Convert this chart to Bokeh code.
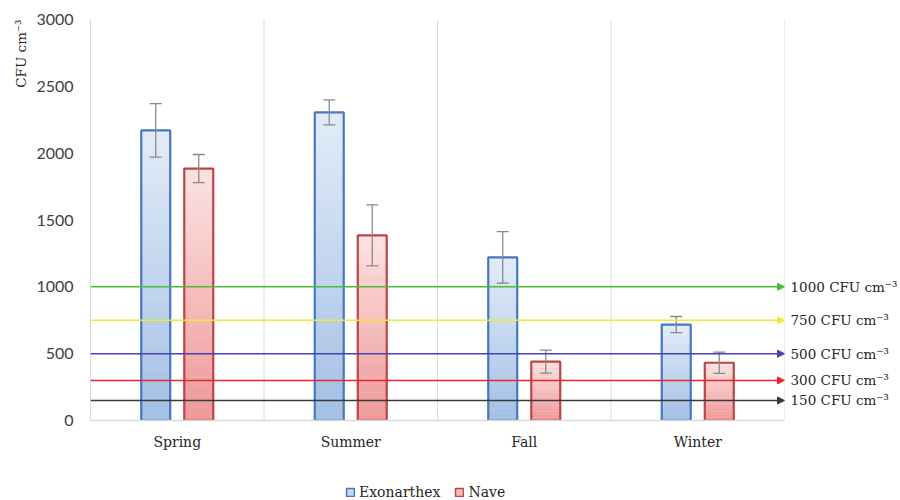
from bokeh.plotting import figure
from bokeh.models import (FactorRange, ColumnDataSource, Whisker, TeeHead, Arrow,
                          NormalHead, Span, FixedTicker, Legend, LegendItem, LinearAxis,
                          Title)
from bokeh.layouts import column
from bokeh.transform import dodge
from bokeh.embed import file_html
from bokeh.resources import INLINE

# Airborne microbial load by season (CFU per cubic centimetre)
seasons = ["Spring", "Summer", "Fall", "Winter"]
exonarthex = [2170, 2305, 1220, 718]
exonarthex_err = [200, 93, 193, 60]
nave = [1885, 1385, 440, 432]
nave_err = [105, 228, 86, 80]

# Reference thresholds
limit_values = [1000, 750, 500, 300, 150]
limit_labels = ["1000 CFU cm⁻³", "750 CFU cm⁻³", "500 CFU cm⁻³", "300 CFU cm⁻³", "150 CFU cm⁻³"]
limit_colors = ["#4dbb3a", "#f2ea2e", "#4a42b4", "#e8282c", "#3a3a3a"]

y_ticks = [0, 500, 1000, 1500, 2000, 2500, 3000]

SERIF = "DejaVu Serif"
SANS = "Lato"
TEXT = "#262626"

p = figure(x_range=FactorRange(*seasons, range_padding=0), y_range=(0, 3000),
           width=900, height=476, output_backend="svg", toolbar_location=None,
           min_border_left=90, min_border_right=115, min_border_top=19,
           min_border_bottom=56)
p.outline_line_color = None
p.xgrid.grid_line_color = None
p.ygrid.grid_line_color = None

# category separators
for k in range(1, len(seasons) + 1):
    p.add_layout(Span(location=k, dimension="height", line_color="#dcdcdc", line_width=1))

series = [
    (exonarthex, exonarthex_err, -0.124, "#a3bfe5", "#e2ecf8", "#4677bf"),
    (nave, nave_err, 0.124, "#ef9898", "#fce2e2", "#bb4548"),
]
BAR_W = 0.167
N = 40

def mix(c1, c2, t):
    a = [int(c1[i:i + 2], 16) for i in (1, 3, 5)]
    b = [int(c2[i:i + 2], 16) for i in (1, 3, 5)]
    return "#%02x%02x%02x" % tuple(round(a[j] + (b[j] - a[j]) * t) for j in range(3))

swatches = []
for vals, errs, off, dark, light, edge in series:
    xs, bots, tops, cols = [], [], [], []
    for s, v in zip(seasons, vals):
        for k in range(N):
            xs.append(s)
            bots.append(v * k / N)
            tops.append(v * (k + 1) / N)
            cols.append(mix(dark, light, (k + 0.5) / N))
    grad = ColumnDataSource(dict(season=xs, bottom=bots, top=tops, color=cols))
    p.vbar(x=dodge("season", off, range=p.x_range), bottom="bottom", top="top",
           width=BAR_W, source=grad, fill_color="color", line_color="color",
           line_width=0.6)
    src = ColumnDataSource(dict(season=seasons, top=vals,
                                upper=[v + e for v, e in zip(vals, errs)],
                                lower=[v - e for v, e in zip(vals, errs)]))
    p.vbar(x=dodge("season", off, range=p.x_range), top="top", bottom=0,
           width=BAR_W, source=src, fill_color=None, line_color=edge, line_width=2.2)
    swatches.append((mix(dark, light, 0.5), edge))
    p.add_layout(Whisker(base=dodge("season", off, range=p.x_range), upper="upper",
                         lower="lower", source=src, line_color="#8a8a8a", line_width=1.3,
                         level="annotation",
                         upper_head=TeeHead(size=12, line_color="#8a8a8a", line_width=1.3),
                         lower_head=TeeHead(size=12, line_color="#8a8a8a", line_width=1.3)))

# threshold lines with arrowheads
for v, col in zip(limit_values, limit_colors):
    p.add_layout(Arrow(x_start=0, y_start=v, x_end=4.0, y_end=v, line_color=col,
                       line_width=1.5, level="overlay",
                       end=NormalHead(size=7, fill_color=col, line_color=col)))

# threshold names on a right-hand axis
right = LinearAxis(ticker=FixedTicker(ticks=limit_values),
                   major_label_overrides={v: t for v, t in zip(limit_values, limit_labels)},
                   axis_line_color=None, major_tick_line_color=None,
                   minor_tick_line_color=None, major_tick_out=0, major_tick_in=0,
                   major_label_standoff=6,
                   major_label_text_font=SERIF, major_label_text_font_size="13.5px",
                   major_label_text_color=TEXT)
p.add_layout(right, "right")

# y axis title at the top of the left side
p.add_layout(Title(text="CFU cm⁻³", align="right", text_font=SERIF,
                   text_font_size="13.5px", text_font_style="normal",
                   text_color=TEXT, standoff=10), "left")

yax = p.yaxis[0]
yax.ticker = FixedTicker(ticks=y_ticks)
yax.axis_line_color = "#d9d9d9"
yax.major_tick_line_color = None
yax.minor_tick_line_color = None
yax.major_tick_out = 0
yax.major_tick_in = 0
yax.major_label_standoff = 17
yax.major_label_text_font = SANS
yax.major_label_text_font_size = "16px"
yax.major_label_text_color = "#404040"

p.xaxis.axis_line_color = "#d9d9d9"
p.xaxis.axis_line_width = 1.5
p.xaxis.major_tick_line_color = None
p.xaxis.minor_tick_line_color = None
p.xaxis.major_tick_out = 0
p.xaxis.major_tick_in = 0
p.xaxis.major_label_standoff = 13
p.xaxis.major_label_text_font = SERIF
p.xaxis.major_label_text_font_size = "14px"
p.xaxis.major_label_text_color = TEXT

# legend strip below the chart (its frame lines up with the chart frame)
leg = figure(width=900, height=24, x_range=(0, 1), y_range=(0, 1),
             x_axis_location=None, y_axis_location=None,
             output_backend="svg", toolbar_location=None, min_border=0)
leg.grid.visible = False
leg.outline_line_color = None
leg_items = []
for name, (fill, edge) in zip(["Exonarthex", "Nave"], swatches):
    sw = leg.quad(left=[-5], right=[-4], bottom=[-5], top=[-4],
                  fill_color=fill, line_color=edge, line_width=1.5)
    leg_items.append(LegendItem(label=name, renderers=[sw]))
leg.add_layout(Legend(items=leg_items, orientation="horizontal", location=(255, 0),
                      border_line_color=None, background_fill_alpha=0,
                      label_text_font=SERIF, label_text_font_size="14px",
                      label_text_color=TEXT, glyph_width=10, glyph_height=10,
                      spacing=14, label_standoff=4, margin=0, padding=2))

open("out.html", "w").write(file_html(column(p, leg), INLINE))
